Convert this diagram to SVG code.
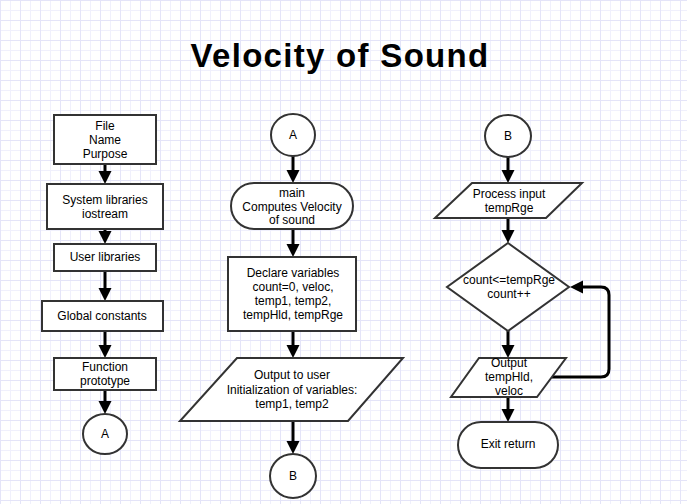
<svg xmlns="http://www.w3.org/2000/svg" width="687" height="504" viewBox="0 0 687 504">
<defs>
<pattern id="grid" width="20" height="20" patternUnits="userSpaceOnUse">
<path d="M10.5 0V20M0 10.5H20" stroke="#f0f0fc" stroke-width="1" fill="none"/>
<path d="M0.5 0V20M0 0.5H20" stroke="#e4e4f8" stroke-width="1" fill="none"/>
</pattern>
<marker id="arr" markerUnits="userSpaceOnUse" markerWidth="14" markerHeight="14" refX="5" refY="6.5" orient="auto">
<path d="M0,0 L13,6.5 L0,13 Z" fill="#000"/>
</marker>
<style>
.s{fill:#fff;stroke:#333;stroke-width:2}
.t{font-family:"Liberation Sans",Arial,sans-serif;font-size:12px;fill:#000;text-anchor:middle}
.c{fill:none;stroke:#000;stroke-width:3;stroke-linejoin:round;marker-end:url(#arr)}
.title{font-family:"Liberation Sans",Arial,sans-serif;font-size:33px;font-weight:bold;fill:#000;text-anchor:middle;letter-spacing:1.3px}
</style>
</defs>
<rect width="687" height="504" fill="#fff"/>
<rect width="687" height="504" fill="url(#grid)"/>
<text class="title" x="340" y="67">Velocity of Sound</text>

<g id="connectors">
<path class="c" d="M105 164V176"/>
<path class="c" d="M105 229V236"/>
<path class="c" d="M105 271V293"/>
<path class="c" d="M105 331V350"/>
<path class="c" d="M105 390V406"/>
<path class="c" d="M293 156V175"/>
<path class="c" d="M293 229V249"/>
<path class="c" d="M293 331V350"/>
<path class="c" d="M293 421V446"/>
<path class="c" d="M508 157V175"/>
<path class="c" d="M508 218V235"/>
<path class="c" d="M508 331V350"/>
<path class="c" d="M508 397V414"/>
<path class="c" d="M552 377H601Q609 377 609 369V295Q609 287 601 287H578"/>
</g>

<g id="file">
<rect class="s" x="54" y="115" width="102" height="49"/>
<text class="t" x="105" y="130">File</text>
<text class="t" x="105" y="144">Name</text>
<text class="t" x="105" y="158">Purpose</text>
</g>
<g id="syslib">
<rect class="s" x="47" y="184" width="116" height="45"/>
<text class="t" x="105" y="204">System libraries</text>
<text class="t" x="105" y="218">iostream</text>
</g>
<g id="userlib">
<rect class="s" x="54" y="244" width="102" height="27"/>
<text class="t" x="105" y="261">User libraries</text>
</g>
<g id="global">
<rect class="s" x="42" y="301" width="121" height="30"/>
<text class="t" x="102" y="320">Global constants</text>
</g>
<g id="proto">
<rect class="s" x="54" y="358" width="102" height="32"/>
<text class="t" x="105" y="371">Function</text>
<text class="t" x="105" y="385">prototype</text>
</g>
<g id="connA1">
<ellipse class="s" cx="105" cy="434" rx="22" ry="20"/>
<text class="t" x="105" y="438">A</text>
</g>

<g id="connA2">
<ellipse class="s" cx="293" cy="135" rx="22" ry="21"/>
<text class="t" x="293" y="139">A</text>
</g>
<g id="main">
<rect class="s" x="231" y="183" width="122" height="46" rx="23" ry="23"/>
<text class="t" x="292" y="197">main</text>
<text class="t" x="292" y="211">Computes Velocity</text>
<text class="t" x="292" y="224">of sound</text>
</g>
<g id="declare">
<rect class="s" x="228" y="257" width="128" height="74"/>
<text class="t" x="293" y="277">Declare variables</text>
<text class="t" x="293" y="291">count=0, veloc,</text>
<text class="t" x="293" y="305">temp1, temp2,</text>
<text class="t" x="293" y="319">tempHld, tempRge</text>
</g>
<g id="output1">
<path class="s" d="M237 358H403L348 421H180Z"/>
<text class="t" x="292" y="379">Output to user</text>
<text class="t" x="292" y="394">Initialization of variables:</text>
<text class="t" x="292" y="408">temp1, temp2</text>
</g>
<g id="connB1">
<ellipse class="s" cx="293" cy="476" rx="23" ry="22"/>
<text class="t" x="293" y="480">B</text>
</g>

<g id="connB2">
<ellipse class="s" cx="508" cy="136" rx="23" ry="21"/>
<text class="t" x="508" y="140">B</text>
</g>
<g id="process">
<path class="s" d="M472 183H582L546 218H435Z"/>
<text class="t" x="509" y="198">Process input</text>
<text class="t" x="509" y="212">tempRge</text>
</g>
<g id="decision">
<path class="s" d="M508 243L569 287L508 331L447 287Z"/>
<text class="t" x="509" y="284">count&lt;=tempRge</text>
<text class="t" x="509" y="298">count++</text>
</g>
<g id="output2">
<path class="s" d="M479 358H566L537 397H451Z"/>
<text class="t" x="509" y="367">Output</text>
<text class="t" x="509" y="381">tempHld,</text>
<text class="t" x="509" y="395">veloc</text>
</g>
<g id="exit">
<rect class="s" x="458" y="422" width="100" height="46" rx="23" ry="23"/>
<text class="t" x="508" y="448">Exit return</text>
</g>
</svg>
